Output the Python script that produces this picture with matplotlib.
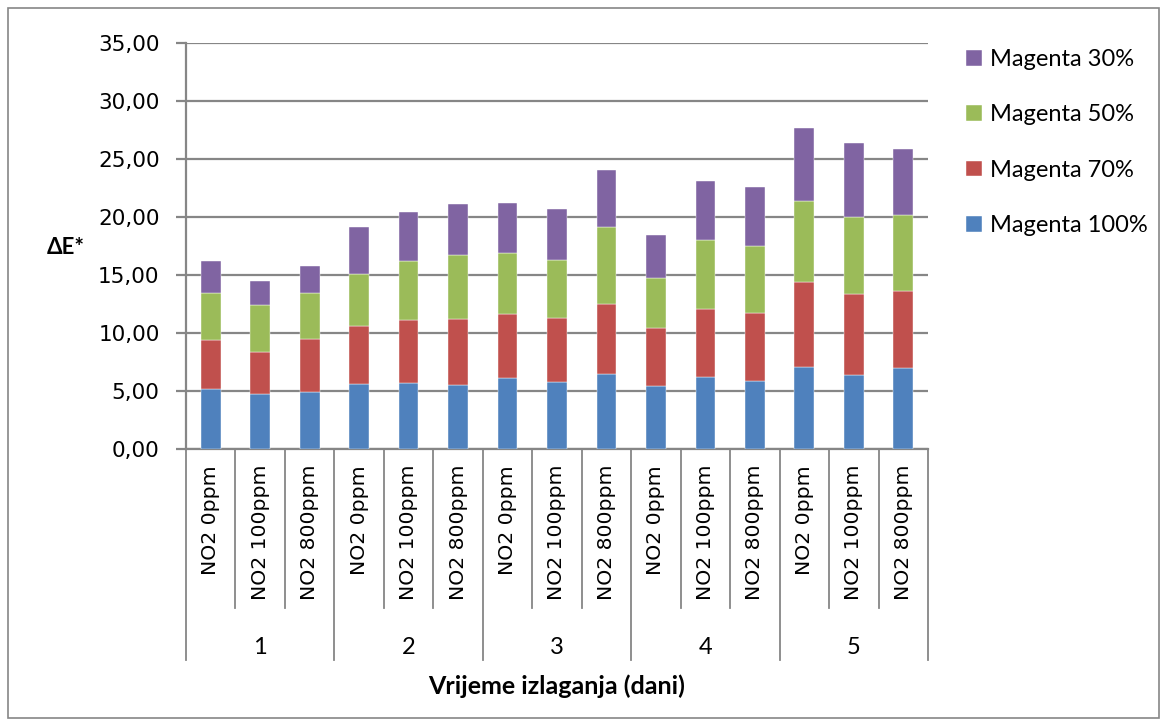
import numpy as np
import matplotlib
matplotlib.use('Agg')
import matplotlib.pyplot as plt
from matplotlib.patches import Rectangle
from matplotlib.transforms import blended_transform_factory

days = ['1', '2', '3', '4', '5']
conc = ['NO2 0ppm', 'NO2 100ppm', 'NO2 800ppm']

# cumulative heights, per bar (15 bars)
top_100 = [5.21, 4.78, 4.89, 5.59, 5.71, 5.53, 6.14, 5.79, 6.46, 5.44, 6.17, 5.82, 7.10, 6.34, 6.98]
top_70 = [9.41, 8.37, 9.44, 10.63, 11.15, 11.24, 11.67, 11.32, 12.51, 10.45, 12.08, 11.76, 14.36, 13.32, 13.61]
top_50 = [13.44, 12.42, 13.41, 15.06, 16.22, 16.71, 16.91, 16.30, 19.14, 14.74, 18.01, 17.46, 21.34, 19.98, 20.16]
top_30 = [16.22, 14.51, 15.81, 19.17, 20.45, 21.14, 21.20, 20.65, 24.04, 18.45, 23.11, 22.56, 27.63, 26.35, 25.89]

magenta_100 = np.array(top_100)
magenta_70 = np.array(top_70) - np.array(top_100)
magenta_50 = np.array(top_50) - np.array(top_70)
magenta_30 = np.array(top_30) - np.array(top_50)

series = [('Magenta 100%', magenta_100, '#4F81BD'),
          ('Magenta 70%', magenta_70, '#C0504D'),
          ('Magenta 50%', magenta_50, '#9BBB59'),
          ('Magenta 30%', magenta_30, '#8064A2')]

labels = [c for d in days for c in conc]
x = np.arange(len(labels))

W, H = 1167, 723
fig = plt.figure(figsize=(W / 100, H / 100), dpi=100)
ax = fig.add_axes([186 / W, 1 - 449 / H, (928 - 186) / W, (449 - 43) / H])

grid_c = '#868686'
bottom = np.zeros(len(x))
handles = []
for name, vals, col in series:
    b = ax.bar(x, vals, 0.4, bottom=bottom, color=col, label=name,
               edgecolor='white', linewidth=0.3, zorder=3)
    bottom = bottom + vals
    handles.append(b)

ax.set_xlim(-0.5, len(x) - 0.5)
ax.set_ylim(0, 35)
ax.set_yticks(np.arange(0, 36, 5))
ax.yaxis.set_major_formatter(matplotlib.ticker.FuncFormatter(lambda v, p: ('%.2f' % v).replace('.', ',')))
ax.grid(axis='y', color=grid_c, linewidth=1.6, zorder=0)
for s in ['top', 'right']:
    ax.spines[s].set_visible(False)
for s in ['left', 'bottom']:
    ax.spines[s].set_color(grid_c)
    ax.spines[s].set_linewidth(1.6)

ax.set_xticks(x)
ax.set_xticklabels(labels, rotation=90, fontsize=14.7, family='DejaVu Sans')
ax.tick_params(axis='x', length=0, pad=11.5)
ax.tick_params(axis='y', length=7, color=grid_c, width=1.6, labelsize=15.5, pad=12)
for t in ax.get_yticklabels():
    t.set_family('DejaVu Sans')

trans = blended_transform_factory(ax.transData, ax.transAxes)
ah = 449 - 43
for i in range(len(x) + 1):
    xp = i - 0.5
    if i % 3 == 0:
        y_end = -(660 - 449) / ah
    else:
        y_end = -(608 - 449) / ah
    ax.plot([xp, xp], [0, y_end], color=grid_c, linewidth=1.3, transform=trans, clip_on=False)

for g, d in enumerate(days):
    ax.text(g * 3 + 1, -(647 - 449) / ah, d, transform=trans, ha='center', va='center',
            fontsize=17, family='Lato')

ax.text(7, -(686 - 449) / ah, 'Vrijeme izlaganja (dani)', transform=trans, ha='center',
        va='center', fontsize=18, fontweight='bold', family='Lato')
ax.text((66 - 186) / 742, (449 - 247) / ah, 'ΔE*', transform=ax.transAxes, ha='center',
        va='center', fontsize=16, fontweight='bold', family='Lato')

leg = fig.legend(handles[::-1], [s[0] for s in series][::-1], loc='upper left',
                 bbox_to_anchor=(945 / W, 1 - 28 / H), frameon=False,
                 prop={'family': 'Lato', 'size': 17}, handlelength=0.65, handleheight=0.65,
                 handletextpad=0.35, labelspacing=1.45)

fig.patches.append(Rectangle((8 / W, 5 / H), 1 - 16 / W, 1 - 13 / H, transform=fig.transFigure,
                             fill=False, edgecolor=grid_c, linewidth=1.2))

fig.savefig('out.png', dpi=100)
